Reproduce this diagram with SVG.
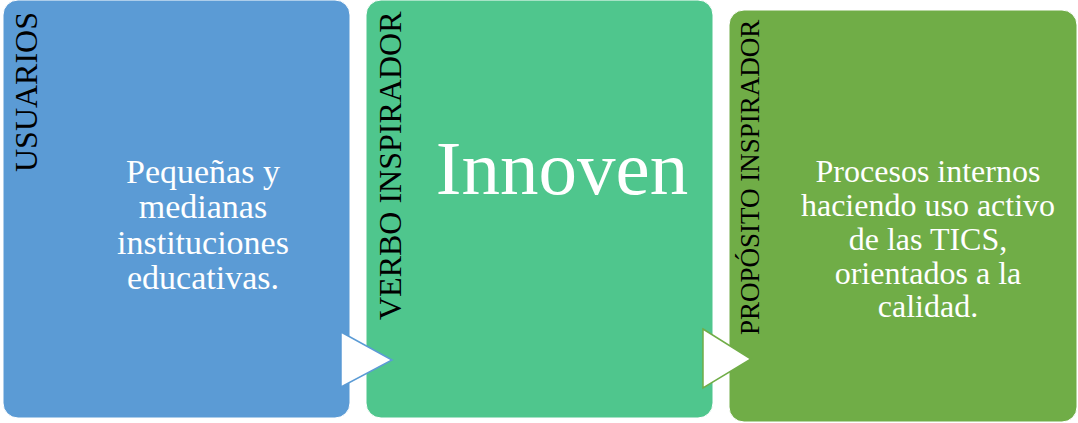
<svg xmlns="http://www.w3.org/2000/svg" width="1078" height="423" viewBox="0 0 1078 423">
<style>
.box{stroke:#ffffff;stroke-width:1}
.lbl{font-family:"Liberation Serif","Times New Roman",serif;fill:#000000}
.body{font-family:"Liberation Serif","Times New Roman",serif;fill:#ffffff;text-anchor:middle}
.arr{fill:#ffffff;stroke-width:1.5}
</style>
<rect width="1078" height="423" fill="#ffffff"/>
<g id="node-usuarios">
<rect class="box" x="3" y="0" width="347" height="418" rx="15" fill="#5B9BD5"/>
<text class="lbl" font-size="32" transform="translate(37,172) rotate(-90)">USUARIOS</text>
<text class="body" font-size="34"><tspan x="203" y="183">Pequeñas y</tspan><tspan x="203" y="218">medianas</tspan><tspan x="203" y="254">instituciones</tspan><tspan x="203" y="289">educativas.</tspan></text>
</g>
<g id="node-verbo">
<rect class="box" x="366" y="0" width="347" height="418" rx="15" fill="#4FC68D"/>
<text class="lbl" font-size="32" transform="translate(401,320) rotate(-90)">VERBO INSPIRADOR</text>
<text class="body" font-size="77" x="562" y="194">Innoven</text>
</g>
<g id="node-proposito">
<rect class="box" x="729" y="10" width="348" height="412" rx="15" fill="#70AD47"/>
<text class="lbl" font-size="27" transform="translate(759,335) rotate(-90)">PROPÓSITO INSPIRADOR</text>
<text class="body" font-size="32"><tspan x="928" y="182">Procesos internos</tspan><tspan x="928" y="216">haciendo uso activo</tspan><tspan x="928" y="250">de las TICS,</tspan><tspan x="928" y="284">orientados a la</tspan><tspan x="928" y="317">calidad.</tspan></text>
</g>
<g id="connectors">
<polygon class="arr" points="341,332 392,360 341,387" stroke="#5B9BD5"/>
<polygon class="arr" points="703,329 751,359 703,388" stroke="#70AD47"/>
</g>
</svg>
